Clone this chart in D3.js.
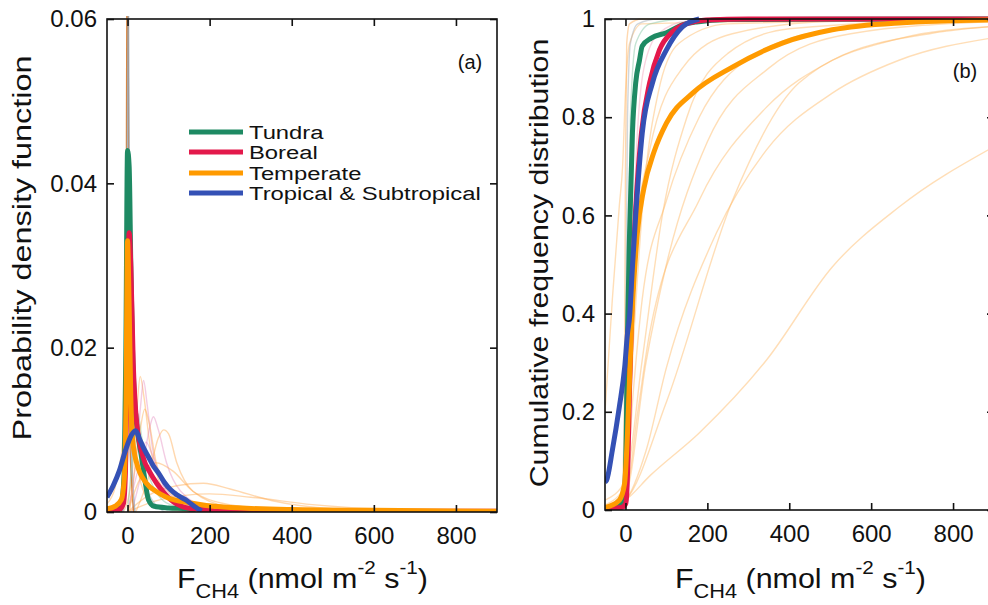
<!DOCTYPE html>
<html>
<head>
<meta charset="utf-8">
<script src="https://cdn.jsdelivr.net/npm/d3@7"></script>
<style>
  body { margin: 0; background: #fff; }
  text { font-family: Arial, "Liberation Sans", Helvetica, sans-serif; fill: #111; }
</style>
</head>
<body>
<svg id="chart" width="988" height="605"></svg>
<script>
// ---- data ----
const biomes = ["Tundra", "Boreal", "Temperate", "Tropical & Subtropical"];
const biomeColors = ["#1e8a63", "#e3194b", "#ff9a00", "#3451b5"];

const xDomain = [-50, 900];
const xTickValues = [0, 200, 400, 600, 800];
const pdfTickValues = [0, 0.02, 0.04, 0.06];
const pdfTickLabels = ["0", "0.02", "0.04", "0.06"];
const cdfTickValues = [0, 0.2, 0.4, 0.6, 0.8, 1];
const cdfTickLabels = ["0", "0.2", "0.4", "0.6", "0.8", "1"];

// probability density, per biome  [flux, density]
const pdfTundra = [[-50,0],[-30,0.0002],[-15,0.001],[-8,0.005],[-4,0.02],[0,0.044],[4,0.042],[8,0.03],[12,0.02],[18,0.013],[25,0.0095],[34,0.0067],[42,0.004],[51,0.0015],[65,0.0007],[100,0.0005],[145,0.0004],[165,0]];
const pdfBoreal = [[-50,0.0001],[-20,0.0003],[-10,0.001],[-5,0.005],[0,0.02],[4,0.034],[8,0.03],[14,0.018],[22,0.011],[39,0.0065],[55,0.0048],[71,0.0035],[88,0.0024],[105,0.0015],[137,0.0006],[178,0.0003],[300,0.0001],[900,0.0001]];
const pdfTemperate = [[-50,0.0004],[-30,0.0007],[-15,0.0015],[-8,0.004],[-4,0.012],[0,0.033],[4,0.025],[8,0.014],[12,0.009],[22,0.006],[46,0.0035],[70,0.0025],[95,0.0018],[154,0.0011],[234,0.0006],[400,0.0003],[600,0.0002],[900,0.0001]];
const pdfTropical = [[-50,0.0018],[-35,0.0032],[-20,0.005],[-5,0.0075],[10,0.0094],[20,0.0099],[30,0.0088],[40,0.0077],[51,0.0067],[63,0.0056],[76,0.0047],[90,0.0036],[105,0.0027],[120,0.0021],[141,0.0015],[160,0.0008],[180,0.0001]];

// individual sites (faint)
const pdfSites = [
  [[-10,0],[10,0.004],[22,0.012],[31,0.0165],[40,0.014],[55,0.008],[75,0.004],[110,0.0015],[200,0.0003],[400,0]],
  [[0,0],[20,0.006],[32,0.013],[39,0.016],[48,0.013],[60,0.008],[80,0.004],[120,0.0012],[250,0]],
  [[10,0],[35,0.005],[55,0.0105],[63,0.0116],[75,0.01],[95,0.006],[130,0.0025],[200,0.0005],[350,0]],
  [[20,0],[50,0.004],[75,0.009],[88,0.01],[100,0.0095],[120,0.006],[160,0.0025],[250,0.0006],[400,0]],
  [[0,0],[50,0.002],[120,0.0032],[185,0.0035],[250,0.0028],[350,0.0014],[500,0.0004],[700,0.0001],[900,0]],
  [[0,0],[80,0.0015],[200,0.0022],[300,0.0018],[450,0.0009],[650,0.0003],[900,0.0001]],
  [[-50,0.001],[-30,0.003],[-15,0.007],[-5,0.012],[5,0.014],[15,0.01],[30,0.004],[60,0.001],[150,0]],
  [[-15,0],[-5,0.01],[0,0.08],[5,0.01],[15,0]],
  [[-12,0],[-3,0.012],[2,0.066],[7,0.012],[18,0]],
  [[0,0],[15,0.008],[25,0.012],[35,0.009],[55,0.004],[100,0.001],[200,0]],
  [[-10,0],[5,0.009],[15,0.013],[25,0.009],[45,0.003],[90,0]],
  [[0,0],[25,0.005],[45,0.0085],[60,0.007],[90,0.003],[150,0.0007],[300,0]],
  [[0,0],[30,0.004],[70,0.006],[110,0.005],[160,0.0025],[260,0.0008],[450,0]],
  [[5,0],[28,0.009],[42,0.0125],[52,0.011],[70,0.006],[110,0.002],[220,0]]
];
const pdfSiteColors = ["#ffa94d","#e58fc0","#e58fc0","#ffa94d","#ffa94d","#ffa94d","#ffa94d","#d07a30","#8fa3b8","#7cc4a0","#8fa3b8","#e58fc0","#ffa94d","#ffa94d"];
const pdfSiteOpacity = [0.45,0.45,0.45,0.45,0.45,0.45,0.45,0.9,0.7,0.45,0.45,0.45,0.45,0.45];

// cumulative frequency, per biome
const cdfTundra = [[-50,0.004],[-20,0.008],[-8,0.015],[-2,0.04],[2,0.157],[5,0.36],[10,0.564],[17,0.768],[25,0.87],[34,0.915],[41,0.945],[63,0.961],[100,0.972],[139,0.988],[173,0.994],[250,0.999],[900,1]];
const cdfBoreal = [[-50,0.003],[-10,0.005],[0,0.012],[2,0.02],[6,0.1],[10,0.25],[14,0.36],[22,0.564],[30,0.68],[39,0.768],[59,0.87],[83,0.937],[115,0.974],[156,0.992],[197,0.998],[300,1],[900,1]];
const cdfTemperate = [[-50,0.005],[-15,0.02],[-2,0.055],[5,0.157],[14,0.36],[29,0.564],[45,0.655],[70,0.73],[100,0.788],[164,0.849],[261,0.902],[383,0.951],[505,0.978],[668,0.992],[900,0.998]];
const cdfTropical = [[-50,0.057],[-46,0.061],[-32,0.122],[-15,0.21],[-2,0.29],[5,0.36],[10,0.393],[17,0.495],[25,0.6],[41,0.768],[66,0.87],[100,0.937],[139,0.984],[180,1.0]];

const cdfSites = [
  [[-50,0],[0,0.02],[60,0.07],[180,0.157],[344,0.305],[505,0.495],[668,0.617],[900,0.74]],
  [[-50,0],[0,0.02],[50,0.12],[100,0.29],[222,0.564],[344,0.733],[505,0.849],[668,0.916],[900,0.962]],
  [[-50,0],[0,0.03],[30,0.2],[59,0.36],[180,0.631],[344,0.82],[505,0.916],[749,0.971],[900,0.985]],
  [[-50,0],[0,0.04],[20,0.25],[41,0.43],[100,0.63],[180,0.8],[302,0.92],[505,0.978],[900,0.998]],
  [[-50,0],[0,0.05],[17,0.495],[59,0.733],[139,0.9],[261,0.97],[500,0.995],[900,1]],
  [[-50,0.2],[-32,0.43],[-15,0.62],[-7,0.7],[0,0.85],[10,0.95],[40,0.99],[900,1]],
  [[-50,0],[-10,0.01],[-3,0.2],[0,0.7],[3,0.95],[10,0.99],[40,1],[900,1]],
  [[-50,0],[-5,0.02],[0,0.3],[5,0.8],[12,0.95],[30,0.99],[80,1],[900,1]],
  [[-50,0],[0,0.05],[5,0.4],[12,0.8],[25,0.95],[60,0.99],[150,1],[900,1]],
  [[-50,0],[0,0.02],[10,0.3],[25,0.7],[45,0.9],[80,0.97],[150,0.995],[900,1]],
  [[-50,0.01],[0,0.05],[20,0.35],[45,0.65],[80,0.85],[130,0.95],[250,0.99],[900,1]],
  [[-50,0.02],[0,0.06],[40,0.3],[90,0.6],[150,0.8],[250,0.93],[400,0.98],[900,1]],
  [[-50,0],[0,0.02],[100,0.22],[261,0.63],[424,0.87],[668,0.96],[900,0.985]],
  [[-50,0],[0,0.03],[50,0.3],[100,0.5],[200,0.75],[350,0.9],[550,0.97],[900,0.995]]
];
const cdfSiteColors = ["#ffb560","#ffb560","#ffb560","#ffb560","#ffb560","#ffb560","#ffa94d","#9aa5b0","#7cc4a0","#f2a0b8","#ffb560","#ffb560","#ffb560","#ffb560"];
const cdfSiteOpacity = cdfSiteColors.map(() => 0.45);

// ---- drawing ----
const svg = d3.select("#chart");

const boxA = { left: 107, right: 497, top: 19, bottom: 512 };
const boxB = { left: 605, right: 994, top: 19, bottom: 510 };

function drawPanel(box, yMax, yTicks, yLabels, curves, sites, siteColors, siteOpacity, id) {
  const x = d3.scaleLinear().domain(xDomain).range([box.left, box.right]);
  const y = d3.scaleLinear().domain([0, yMax]).range([box.bottom, box.top]);
  const line = d3.line()
    .x(d => x(d[0]))
    .y(d => y(d[1]))
    .curve(d3.curveMonotoneX);

  svg.append("clipPath").attr("id", id)
    .append("rect")
    .attr("x", box.left).attr("y", box.top - 3)
    .attr("width", box.right - box.left)
    .attr("height", box.bottom - box.top + 3);

  const plot = svg.append("g").attr("clip-path", `url(#${id})`);

  plot.selectAll("path.site")
    .data(sites)
    .join("path")
    .attr("class", "site")
    .attr("fill", "none")
    .attr("stroke", (d, i) => siteColors[i])
    .attr("stroke-opacity", (d, i) => siteOpacity[i])
    .attr("stroke-width", 1.4)
    .attr("d", line);

  plot.selectAll("path.biome")
    .data(curves)
    .join("path")
    .attr("class", "biome")
    .attr("fill", "none")
    .attr("stroke", (d, i) => biomeColors[i])
    .attr("stroke-width", 5)
    .attr("stroke-linejoin", "round")
    .attr("d", line);

  // frame
  svg.append("rect")
    .attr("x", box.left).attr("y", box.top)
    .attr("width", box.right - box.left)
    .attr("height", box.bottom - box.top)
    .attr("fill", "none")
    .attr("stroke", "#111")
    .attr("stroke-width", 1.6);

  const styleAxis = g => {
    g.select(".domain").remove();
    g.selectAll(".tick line").attr("stroke", "#111").attr("stroke-width", 1.6);
    g.selectAll(".tick text").attr("font-size", 24).attr("fill", "#111")
      .attr("font-family", "Arial, 'Liberation Sans', sans-serif");
  };

  svg.append("g")
    .attr("transform", `translate(0,${box.bottom})`)
    .call(d3.axisBottom(x).tickValues(xTickValues).tickSizeInner(-7).tickSizeOuter(0).tickPadding(15))
    .call(styleAxis);
  svg.append("g")
    .attr("transform", `translate(0,${box.top})`)
    .call(d3.axisTop(x).tickValues(xTickValues).tickSizeInner(-7).tickSizeOuter(0).tickFormat(() => ""))
    .call(styleAxis);
  svg.append("g")
    .attr("transform", `translate(${box.left},0)`)
    .call(d3.axisLeft(y).tickValues(yTicks).tickSizeInner(-7).tickSizeOuter(0).tickPadding(10)
      .tickFormat((d, i) => yLabels[i]))
    .call(styleAxis);
  svg.append("g")
    .attr("transform", `translate(${box.right},0)`)
    .call(d3.axisRight(y).tickValues(yTicks).tickSizeInner(-7).tickSizeOuter(0).tickFormat(() => ""))
    .call(styleAxis);
}

drawPanel(boxA, 0.06, pdfTickValues, pdfTickLabels,
  [pdfTundra, pdfBoreal, pdfTemperate, pdfTropical], pdfSites, pdfSiteColors, pdfSiteOpacity, "clipA");
drawPanel(boxB, 1, cdfTickValues, cdfTickLabels,
  [cdfTundra, cdfBoreal, cdfTemperate, cdfTropical], cdfSites, cdfSiteColors, cdfSiteOpacity, "clipB");

// stretch a text horizontally so it spans `width`, starting at `left`
function fitWidth(text, left, width) {
  const bb = text.node().getBBox();
  const s = width / bb.width;
  text.attr("transform", `translate(${left - s * bb.x},0) scale(${s},1)`);
}

// x axis titles
function xTitle(left, width) {
  const t = svg.append("text").attr("x", 0).attr("y", 588).attr("font-size", 28);
  t.append("tspan").text("F");
  t.append("tspan").attr("dy", 10).attr("font-size", 20).text("CH4");
  t.append("tspan").attr("dy", -10).text(" (nmol m");
  t.append("tspan").attr("dy", -14).attr("font-size", 19).text("-2");
  t.append("tspan").attr("dy", 14).text(" s");
  t.append("tspan").attr("dy", -14).attr("font-size", 19).text("-1");
  t.append("tspan").attr("dy", 14).text(")");
  fitWidth(t, left, width);
}
xTitle(177, 251);
xTitle(675, 251);

// y axis titles (rotated)
function yTitle(label, xBase, yCenter, length) {
  const g = svg.append("g").attr("transform", `translate(${xBase},${yCenter}) rotate(-90)`);
  const t = g.append("text").attr("text-anchor", "middle").attr("font-size", 26).text(label);
  const w = t.node().getComputedTextLength();
  t.attr("transform", `scale(${length / w},1)`);
}
yTitle("Probability density function", 31, 248, 385);
yTitle("Cumulative frequency distribution", 548, 263, 449);

// panel letters
svg.append("text").attr("x", 470).attr("y", 69).attr("text-anchor", "middle")
  .attr("font-size", 20).text("(a)");
svg.append("text").attr("x", 965).attr("y", 78).attr("text-anchor", "middle")
  .attr("font-size", 20).text("(b)");

// legend
const legendRows = [132, 152, 173, 193];
const legend = svg.append("g");
legend.selectAll("line")
  .data(biomes)
  .join("line")
  .attr("x1", 189).attr("x2", 243)
  .attr("y1", (d, i) => legendRows[i]).attr("y2", (d, i) => legendRows[i])
  .attr("stroke", (d, i) => biomeColors[i])
  .attr("stroke-width", 5);
const legendText = legend.selectAll("text")
  .data(biomes)
  .join("text")
  .attr("x", 0)
  .attr("y", (d, i) => legendRows[i] + 7)
  .attr("font-size", 19)
  .text(d => d);
const longest = d3.max(legendText.nodes(), n => n.getComputedTextLength());
const ls = 232 / longest;
legendText.attr("transform", `translate(249,0) scale(${ls},1)`);
</script>
</body>
</html>
